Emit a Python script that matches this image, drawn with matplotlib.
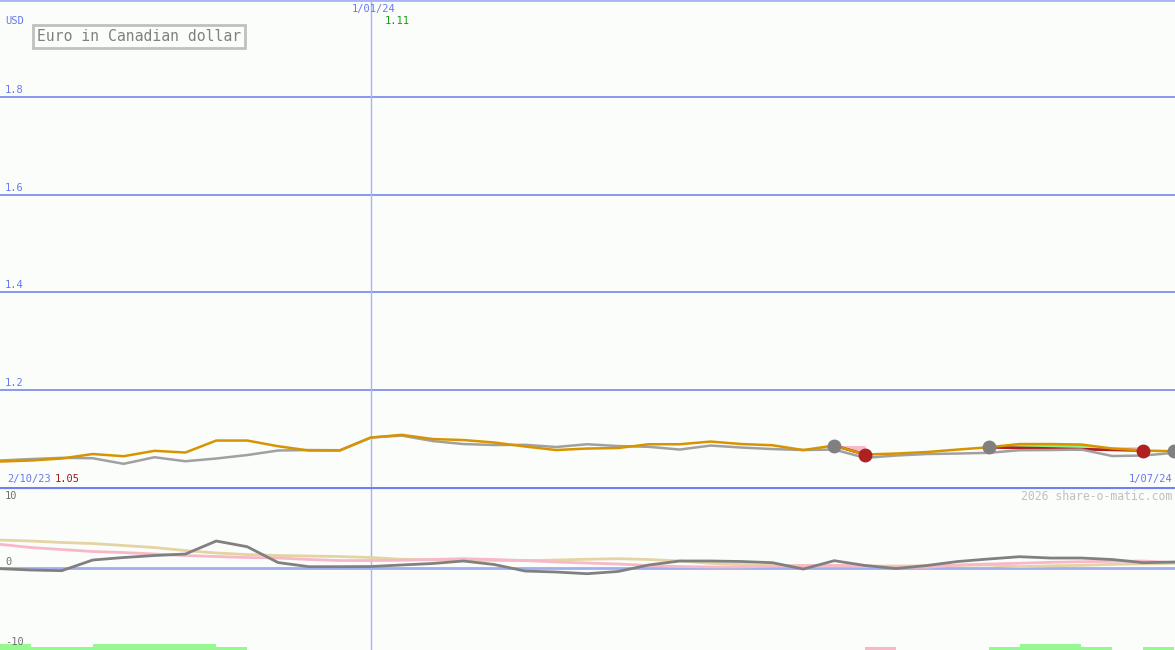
import matplotlib
matplotlib.use("Agg")
import matplotlib.pyplot as plt
import numpy as np

# weekly closes, index 0 = 2/10/23 ; index 12 = 1/01/24
price = [1.0523, 1.0544, 1.0585, 1.0677, 1.0632, 1.0743, 1.0708, 1.0954, 1.0954, 1.0837,
         1.0749, 1.0749, 1.1015, 1.1071, 1.0985, 1.0964, 1.0913, 1.0831, 1.0759, 1.0790,
         1.0800, 1.0878, 1.0878, 1.0933, 1.0882, 1.0857, 1.0759, 1.0851, 1.0667, 1.0687,
         1.0718, 1.0769, 1.0816, 1.0882, 1.0882, 1.0872, 1.0790, 1.0749, 1.0734]
avg = [1.0544, 1.0574, 1.0599, 1.0591, 1.0476, 1.0611, 1.0529, 1.0585, 1.0656, 1.0749,
       1.0759, 1.0755, 1.1015, 1.1056, 1.0944, 1.0882, 1.0862, 1.0866, 1.0821, 1.0878,
       1.0841, 1.0825, 1.0769, 1.0851, 1.0810, 1.0779, 1.0759, 1.0769, 1.0599, 1.0646,
       1.0677, 1.0687, 1.0702, 1.0755, 1.0759, 1.0769, 1.0636, 1.0646, 1.0702]

# indicator panel
osc = [-0.09, -0.27, -0.36, 1.08, 1.42, 1.69, 1.89, 3.65, 2.88, 0.74,
       0.18, 0.18, 0.20, 0.41, 0.61, 0.95, 0.47, -0.41, -0.54, -0.77,
       -0.47, 0.41, 0.95, 0.95, 0.88, 0.72, -0.14, 0.99, 0.34, -0.07,
       0.34, 0.88, 1.22, 1.53, 1.35, 1.35, 1.15, 0.72, 0.81]
sig_pink = [3.20, 2.77, 2.50, 2.23, 2.09, 1.89, 1.69, 1.55, 1.42, 1.35,
            1.15, 1.01, 1.01, 1.04, 1.15, 1.26, 1.15, 1.01, 0.81, 0.68,
            0.54, 0.34, 0.20, 0.14, 0.14, 0.27, 0.34, 0.36, 0.27, 0.14,
            0.09, 0.41, 0.54, 0.64, 0.77, 0.85, 0.91, 0.95, 0.72]
sig_tan = [3.78, 3.65, 3.45, 3.31, 3.04, 2.77, 2.36, 2.03, 1.82, 1.69,
           1.62, 1.55, 1.42, 1.18, 1.11, 1.08, 1.01, 0.99, 1.08, 1.18,
           1.26, 1.15, 0.95, 0.64, 0.47, 0.36, 0.27, 0.30, 0.27, 0.27,
           0.30, 0.36, 0.41, 0.18, 0.30, 0.36, 0.50, 0.57, 0.64]

# bottom strength bars (index, height, colour kind)
bar_idx = [0, 1, 2, 3, 4, 5, 6, 7, 28, 32, 33, 34, 35, 37]
bar_h = [0.8, 0.45, 0.45, 0.8, 0.8, 0.8, 0.8, 0.45, 0.45, 0.45, 0.8, 0.8, 0.45, 0.45]
bar_kind = ['g'] * 8 + ['p'] + ['g'] * 5

buys = [27, 32, 38]
sells = [28, 37]
trades = [(27, 28), (32, 37)]

x = np.arange(len(price))
BG = '#fbfdfb'
BLUE = '#6878f0'
MONO = 'DejaVu Sans Mono'

fig = plt.figure(figsize=(11.75, 6.5), dpi=100, facecolor=BG)
ax1 = fig.add_axes([0, 163 / 650, 1, 487 / 650], facecolor=BG)
ax2 = fig.add_axes([0, 0, 1, 163 / 650], facecolor=BG)
xmax = 38.03

# ---- price panel
for lv in [1.2, 1.4, 1.6, 1.8]:
    ax1.axhline(lv, color='#8898f0', lw=1.4, zorder=1)
    ax1.annotate(f'{lv:.1f}', xy=(0, lv), xycoords=('axes fraction', 'data'),
                 xytext=(5, 2), textcoords='offset pixels', va='bottom',
                 color=BLUE, fontsize=7.5, family=MONO)
ax1.axhline(2.0, color='#a8b4f4', lw=2, zorder=1)
ax1.axvline(12, color='#a8b4f8', lw=1, zorder=1)

pr = np.array(price)
for a, b in trades:
    xs = np.linspace(a, b, 200)
    ys = np.interp(xs, x, pr)
    lvl = pr[a]
    ax1.fill_between(xs, lvl, ys, where=ys >= lvl, color='#90ee80', lw=0, zorder=2)
    ax1.fill_between(xs, lvl, ys, where=ys <= lvl, color='#f8b8c8', lw=0, zorder=2)
    ax1.plot([a, b], [pr[a], pr[b]], color='#b02020', lw=2, zorder=3)

ax1.plot(x, avg, color='#a0a0a0', lw=1.8, zorder=3)
ax1.plot(x, price, color='#d89400', lw=1.8, zorder=4)
ax1.plot(buys, pr[buys], 'o', ms=9, color='#808080', zorder=5, clip_on=False)
ax1.plot(sells, pr[sells], 'o', ms=9, color='#b02020', zorder=5)

ax1.set_xlim(0, xmax)
ax1.set_ylim(1.0, 2.0)
ax1.axis('off')

ax1.text(0.16, 1.957, 'USD', color=BLUE, fontsize=7.5, family=MONO, va='center')
ax1.text(12.45, 1.957, f'{max(price):.2f}', color='#10a010', fontsize=7.5, family=MONO,
         va='center')
ax1.text(12.1, 1.9815, '1/01/24', color=BLUE, fontsize=7.5, family=MONO, ha='center',
         va='center')
ax1.text(0.25, 1.0174, '2/10/23', color=BLUE, fontsize=7.5, family=MONO, va='center')
ax1.text(1.78, 1.0174, f'{price[0]:.2f}', color='#a01818', fontsize=7.5, family=MONO,
         va='center')
ax1.text(37.95, 1.0174, '1/07/24', color=BLUE, fontsize=7.5, family=MONO, ha='right',
         va='center')
ax1.text(1.2, 1.925, 'Euro in Canadian dollar', color='#808080', fontsize=10.6,
         family=MONO, va='center',
         bbox=dict(boxstyle='square,pad=0.25', fc=BG, ec='#c0c0c0', lw=2))

# ---- indicator panel
ax2.axhline(0, color='#a0aef0', lw=2, zorder=1)
ax2.axvline(12, color='#a8b4f8', lw=1, zorder=1)
ax2.plot(x, sig_tan, color='#e4d4a4', lw=2, zorder=2)
ax2.plot(x, sig_pink, color='#f8b8c8', lw=2, zorder=2)
ax2.plot(x, osc, color='#808080', lw=2, zorder=3)
ax2.bar(bar_idx, bar_h, width=1, bottom=-11.08, align='edge',
        color=['#98f890' if k == 'g' else '#f8b8c8' for k in bar_kind], lw=0, zorder=2)
ax2.text(0.16, 9.7, '10', color='#707070', fontsize=7.5, family=MONO, va='center')
ax2.text(0.16, 0.8, '0', color='#707070', fontsize=7.5, family=MONO, va='center')
ax2.text(0.16, -10.05, '-10', color='#707070', fontsize=7.5, family=MONO, va='center')
ax2.text(37.95, 9.7, '2026 share-o-matic.com', color='#c0c0c0', fontsize=8.3,
         family=MONO, ha='right', va='center')
ax2.axhline(10.95, color='#7080f0', lw=3, zorder=4)
ax2.set_xlim(0, xmax)
ax2.set_ylim(-11.08, 10.95)
ax2.axis('off')

fig.savefig('out.png', dpi=100, facecolor=BG)
